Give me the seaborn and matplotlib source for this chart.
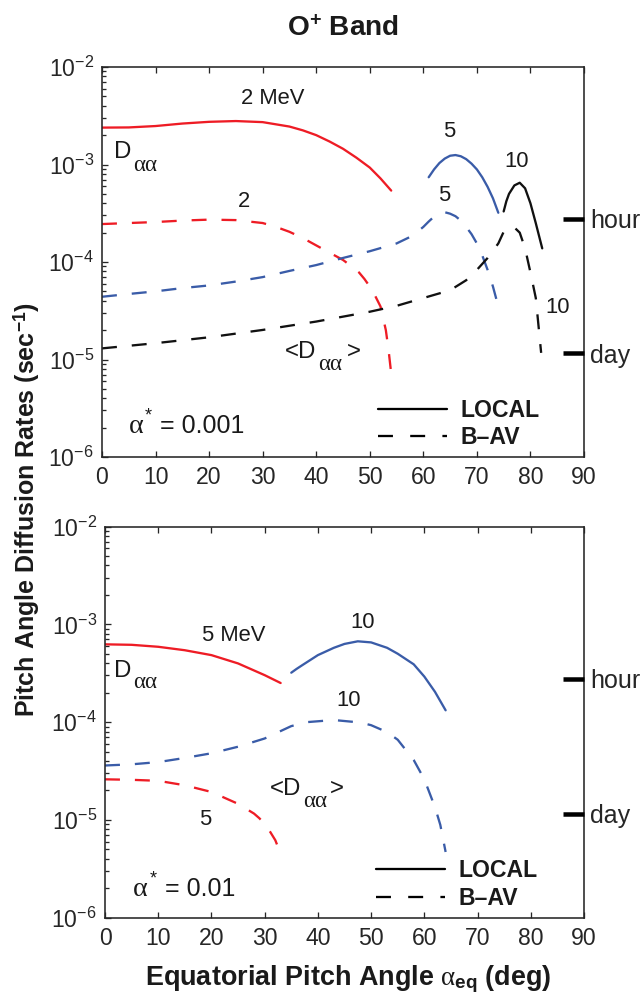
import numpy as np
import pandas as pd
import matplotlib
matplotlib.use("Agg")
import matplotlib.pyplot as plt
from matplotlib.lines import Line2D
from matplotlib.ticker import LogLocator, NullLocator
import seaborn as sns

# ---------------- data ----------------
# top panel (alpha* = 0.001)
t_red_loc_x = [0, 5, 10, 15, 20, 25, 30, 35, 37.5, 40, 42.5, 45, 47.5, 50, 52, 54]
t_red_loc_y = [2.39e-3, 2.40e-3, 2.48e-3, 2.63e-3, 2.74e-3, 2.79e-3, 2.72e-3, 2.45e-3,
               2.24e-3, 2.0e-3, 1.72e-3, 1.45e-3, 1.175e-3, 9.3e-4, 7.2e-4, 5.4e-4]
t_red_bav_x = [0, 5, 10, 15, 20, 25, 30, 32.5, 35, 37.5, 40, 42.5, 45, 46.5, 48, 49, 50,
               51, 52, 53, 53.5, 54]
t_red_bav_y = [2.45e-4, 2.51e-4, 2.57e-4, 2.66e-4, 2.72e-4, 2.69e-4, 2.51e-4, 2.29e-4,
               2.04e-4, 1.76e-4, 1.48e-4, 1.245e-4, 1.05e-4, 9.1e-5, 7.8e-5, 6.7e-5,
               5.6e-5, 4.5e-5, 3.5e-5, 2.0e-5, 1.26e-5, 7.2e-6]
t_blue_loc_x = [61, 62, 63, 64, 65, 66, 67, 68, 69, 70, 71, 72, 73, 74]
t_blue_loc_y = [7.4e-4, 8.9e-4, 1.035e-3, 1.15e-3, 1.23e-3, 1.25e-3, 1.215e-3, 1.135e-3,
                1.02e-3, 8.9e-4, 7.4e-4, 5.9e-4, 4.5e-4, 3.2e-4]
t_blue_bav_x = [0, 5, 10, 15, 20, 25, 30, 35, 40, 45, 50, 55, 58, 60, 61, 62, 63, 64, 65,
                66, 67, 68, 69, 70, 71, 72, 73, 74]
t_blue_bav_y = [4.4e-5, 4.7e-5, 5.0e-5, 5.4e-5, 5.75e-5, 6.3e-5, 7.0e-5, 8.1e-5, 9.3e-5,
                1.1e-4, 1.29e-4, 1.55e-4, 1.86e-4, 2.29e-4, 2.6e-4, 2.92e-4, 3.13e-4,
                3.24e-4, 3.13e-4, 2.95e-4, 2.66e-4, 2.29e-4, 1.93e-4, 1.55e-4, 1.17e-4,
                8.3e-5, 5.6e-5, 3.5e-5]
t_blk_loc_x = [75, 75.5, 76, 77, 78, 79, 80, 81, 82.2]
t_blk_loc_y = [3.3e-4, 4.2e-4, 5.0e-4, 6.1e-4, 6.5e-4, 5.7e-4, 4.0e-4, 2.5e-4, 1.38e-4]
t_blk_bav_x = [0, 10, 20, 30, 40, 50, 55, 60, 65, 68, 70, 72, 74, 75, 76, 77, 78, 79, 80,
               81, 82]
t_blk_bav_y = [1.30e-5, 1.47e-5, 1.69e-5, 2.01e-5, 2.45e-5, 3.09e-5, 3.55e-5, 4.27e-5,
               5.13e-5, 6.5e-5, 8.3e-5, 1.10e-4, 1.55e-4, 2.04e-4, 2.29e-4, 2.26e-4,
               2.0e-4, 1.38e-4, 7.8e-5, 4.27e-5, 1.17e-5]

# bottom panel (alpha* = 0.01)
b_red_loc_x = [0, 5, 10, 15, 20, 25, 30, 33]
b_red_loc_y = [6.24e-4, 6.17e-4, 5.89e-4, 5.43e-4, 4.84e-4, 3.98e-4, 3.02e-4, 2.51e-4]
b_blue_loc_x = [35, 36, 37, 40, 43, 45, 47.5, 50, 53, 55, 58, 60, 62, 64]
b_blue_loc_y = [3.2e-4, 3.5e-4, 3.8e-4, 4.84e-4, 5.75e-4, 6.3e-4, 6.7e-4, 6.53e-4, 5.75e-4,
                5.0e-4, 3.9e-4, 2.92e-4, 2.04e-4, 1.32e-4]
b_blue_bav_x = [0, 5, 10, 15, 20, 25, 30, 33, 35, 38, 43, 48, 50, 53, 55, 58, 60, 62, 63, 64]
b_blue_bav_y = [3.6e-5, 3.7e-5, 3.9e-5, 4.3e-5, 4.8e-5, 5.6e-5, 6.8e-5, 8.1e-5, 9.1e-5,
                1.0e-4, 1.05e-4, 9.9e-5, 9.3e-5, 7.9e-5, 6.6e-5, 4.1e-5, 2.6e-5, 1.35e-5,
                8.9e-6, 4.7e-6]
b_red_bav_x = [0, 5, 10, 15, 20, 25, 28, 29, 30, 31, 32, 33]
b_red_bav_y = [2.6e-5, 2.57e-5, 2.51e-5, 2.26e-5, 1.93e-5, 1.46e-5, 1.16e-5, 1.04e-5,
               9.1e-6, 7.6e-6, 6.2e-6, 4.5e-6]

x_ticks = [0, 10, 20, 30, 40, 50, 60, 70, 80, 90]
y_ticks = [1e-6, 1e-5, 1e-4, 1e-3, 1e-2]
time_ticks = [1 / 3600, 1 / 86400]
time_labels = ["hour", "day"]

RED = "#ee1c25"
BLUE = "#3a5ca8"
BLACK = "#111111"

# ---------------- style ----------------
sns.set_style("ticks")
plt.rcParams["font.family"] = ["Liberation Sans", "DejaVu Sans"]
plt.rcParams["mathtext.fontset"] = "custom"
plt.rcParams["mathtext.rm"] = "Liberation Sans"
plt.rcParams["mathtext.it"] = "Liberation Serif"
plt.rcParams["mathtext.bf"] = "Liberation Sans:bold"
plt.rcParams["mathtext.sf"] = "Liberation Sans"
plt.rcParams["axes.linewidth"] = 1.6
plt.rcParams["text.color"] = "#1a1a1a"

DPI = 72
fig = plt.figure(figsize=(644 / DPI, 1005 / DPI), dpi=DPI)
ax_t = fig.add_axes([102 / 644, 1 - 457 / 1005, 482 / 644, 390 / 1005])
ax_b = fig.add_axes([105 / 644, 1 - 917.7 / 1005, 479 / 644, 391.2 / 1005])

LW = 2.3
DASH = (0, (6.5, 6.5))


def draw(ax, x, y, color, dashed):
    ls = DASH if dashed else "-"
    sns.lineplot(x=x, y=y, ax=ax, color=color, lw=LW, linestyle=ls,
                 errorbar=None, estimator=None)


draw(ax_t, t_red_loc_x, t_red_loc_y, RED, False)
draw(ax_t, t_red_bav_x, t_red_bav_y, RED, True)
draw(ax_t, t_blue_loc_x, t_blue_loc_y, BLUE, False)
draw(ax_t, t_blue_bav_x, t_blue_bav_y, BLUE, True)
draw(ax_t, t_blk_loc_x, t_blk_loc_y, BLACK, False)
draw(ax_t, t_blk_bav_x, t_blk_bav_y, BLACK, True)

draw(ax_b, b_red_loc_x, b_red_loc_y, RED, False)
draw(ax_b, b_blue_loc_x, b_blue_loc_y, BLUE, False)
draw(ax_b, b_blue_bav_x, b_blue_bav_y, BLUE, True)
draw(ax_b, b_red_bav_x, b_red_bav_y, RED, True)

FS = 22
TFS = 23
for ax in (ax_t, ax_b):
    ax.set_yscale("log")
    ax.set_xlim(0, 90)
    ax.set_ylim(1e-6, 1e-2)
    ax.set_xticks(x_ticks)
    ax.set_yticks(y_ticks)
    ax.yaxis.set_minor_locator(LogLocator(base=10, subs=np.arange(2, 10)))
    ax.xaxis.set_minor_locator(NullLocator())
    ax.set_xlabel("")
    ax.set_ylabel("")
    ax.tick_params(which="both", direction="in", top=True, right=True,
                   labelsize=TFS, width=1.3)
    ax.tick_params(which="major", length=6)
    ax.tick_params(which="minor", length=3.5)
    ax.tick_params(axis="x", pad=9)
    ax.tick_params(axis="y", pad=8)
    for s in ax.spines.values():
        s.set_linewidth(1.6)
    # hour / day markers
    ax2 = ax.twinx()
    ax2.set_yscale("log")
    ax2.set_ylim(1e-6, 1e-2)
    ax2.set_yticks(time_ticks, time_labels)
    ax2.yaxis.set_minor_locator(NullLocator())
    ax2.tick_params(axis="y", direction="in", length=21, width=4.5,
                    labelsize=25, pad=6, color="black")
    for s in ax2.spines.values():
        s.set_visible(False)

    handles = [Line2D([], [], color="black", lw=LW),
               Line2D([], [], color="black", lw=LW, linestyle=(0, (6.5, 7.5)))]
    ax.legend(handles, ["LOCAL", "B\u2013AV"], loc="lower left",
              bbox_to_anchor=(0.572 if ax is ax_t else 0.566, 0.02),
              frameon=False, prop={"weight": "bold", "size": 23},
              handlelength=3.0, handletextpad=0.6, labelspacing=0.2,
              borderpad=0, borderaxespad=0)

SERIF = "Liberation Serif"


def put(ax, x, logy, s, dx=0, dy=0, **kw):
    kw.setdefault("ha", "left")
    kw.setdefault("va", "baseline")
    ax.annotate(s, xy=(x, 10 ** logy), xytext=(dx, dy), textcoords="offset points", **kw)


def d_alpha(ax, x, logy, sub_dx, sub_dy):
    put(ax, x, logy, "D", fontsize=24)
    put(ax, x, logy, "\u03b1\u03b1", dx=sub_dx, dy=sub_dy, fontsize=23, family=SERIF)


def bracket_d(ax, x, logy, sub_dx, sub_dy, close_dx):
    put(ax, x, logy, "<D", fontsize=24)
    put(ax, x, logy, "\u03b1\u03b1", dx=sub_dx, dy=sub_dy, fontsize=23, family=SERIF)
    put(ax, x, logy, ">", dx=close_dx, fontsize=24)


def alpha_star(ax, x, logy, value):
    put(ax, x, logy, "\u03b1", fontsize=28, family=SERIF)
    put(ax, x, logy, "*", dx=16, dy=12.5, fontsize=18)
    put(ax, x, logy, "= " + value, dx=31.7, fontsize=25)


# top panel annotations
put(ax_t, 31.8, -2.328, "2 MeV", fontsize=FS, ha="center", va="center")
d_alpha(ax_t, 2.3, -2.937, 18.7, -13)
put(ax_t, 64.8, -2.663, "5", fontsize=FS, ha="center", va="center")
put(ax_t, 77.5, -2.971, "10", fontsize=FS, ha="center", va="center")
put(ax_t, 26.6, -3.381, "2", fontsize=FS, ha="center", va="center")
put(ax_t, 63.9, -3.323, "5", fontsize=FS, ha="center", va="center")
put(ax_t, 85.0, -4.465, "10", fontsize=FS, ha="center", va="center")
bracket_d(ax_t, 34.1, -4.98, 33.7, -12, 62)
alpha_star(ax_t, 5.0, -5.757, "0.001")

# bottom panel annotations
put(ax_b, 24.2, -3.119, "5 MeV", fontsize=FS, ha="center", va="center")
d_alpha(ax_b, 1.7, -3.536, 19.3, -11.7)
put(ax_b, 48.4, -2.983, "10", fontsize=FS, ha="center", va="center")
put(ax_b, 45.8, -3.775, "10", fontsize=FS, ha="center", va="center")
bracket_d(ax_b, 30.9, -4.747, 33.3, -12, 60)
put(ax_b, 18.9, -4.997, "5", fontsize=FS, ha="center", va="center")
alpha_star(ax_b, 5.3, -5.78, "0.01")

fig.text(343 / 644, 1 - 28 / 1005, r"O$^{\mathbf{+}}$ Band", fontsize=28,
         fontweight="bold", ha="center", va="center")
fig.text(27 / 644, 1 - 510 / 1005, r"Pitch Angle Diffusion Rates (sec$^{\mathbf{-1}}$)",
         fontsize=25, fontweight="bold", rotation=90, ha="center", va="center")
fig.text(348 / 644, 1 - 979 / 1005, r"Equatorial Pitch Angle $\alpha_{\mathbf{eq}}$ (deg)",
         fontsize=27, fontweight="bold", ha="center", va="center")

fig.savefig("out.png", dpi=DPI)
